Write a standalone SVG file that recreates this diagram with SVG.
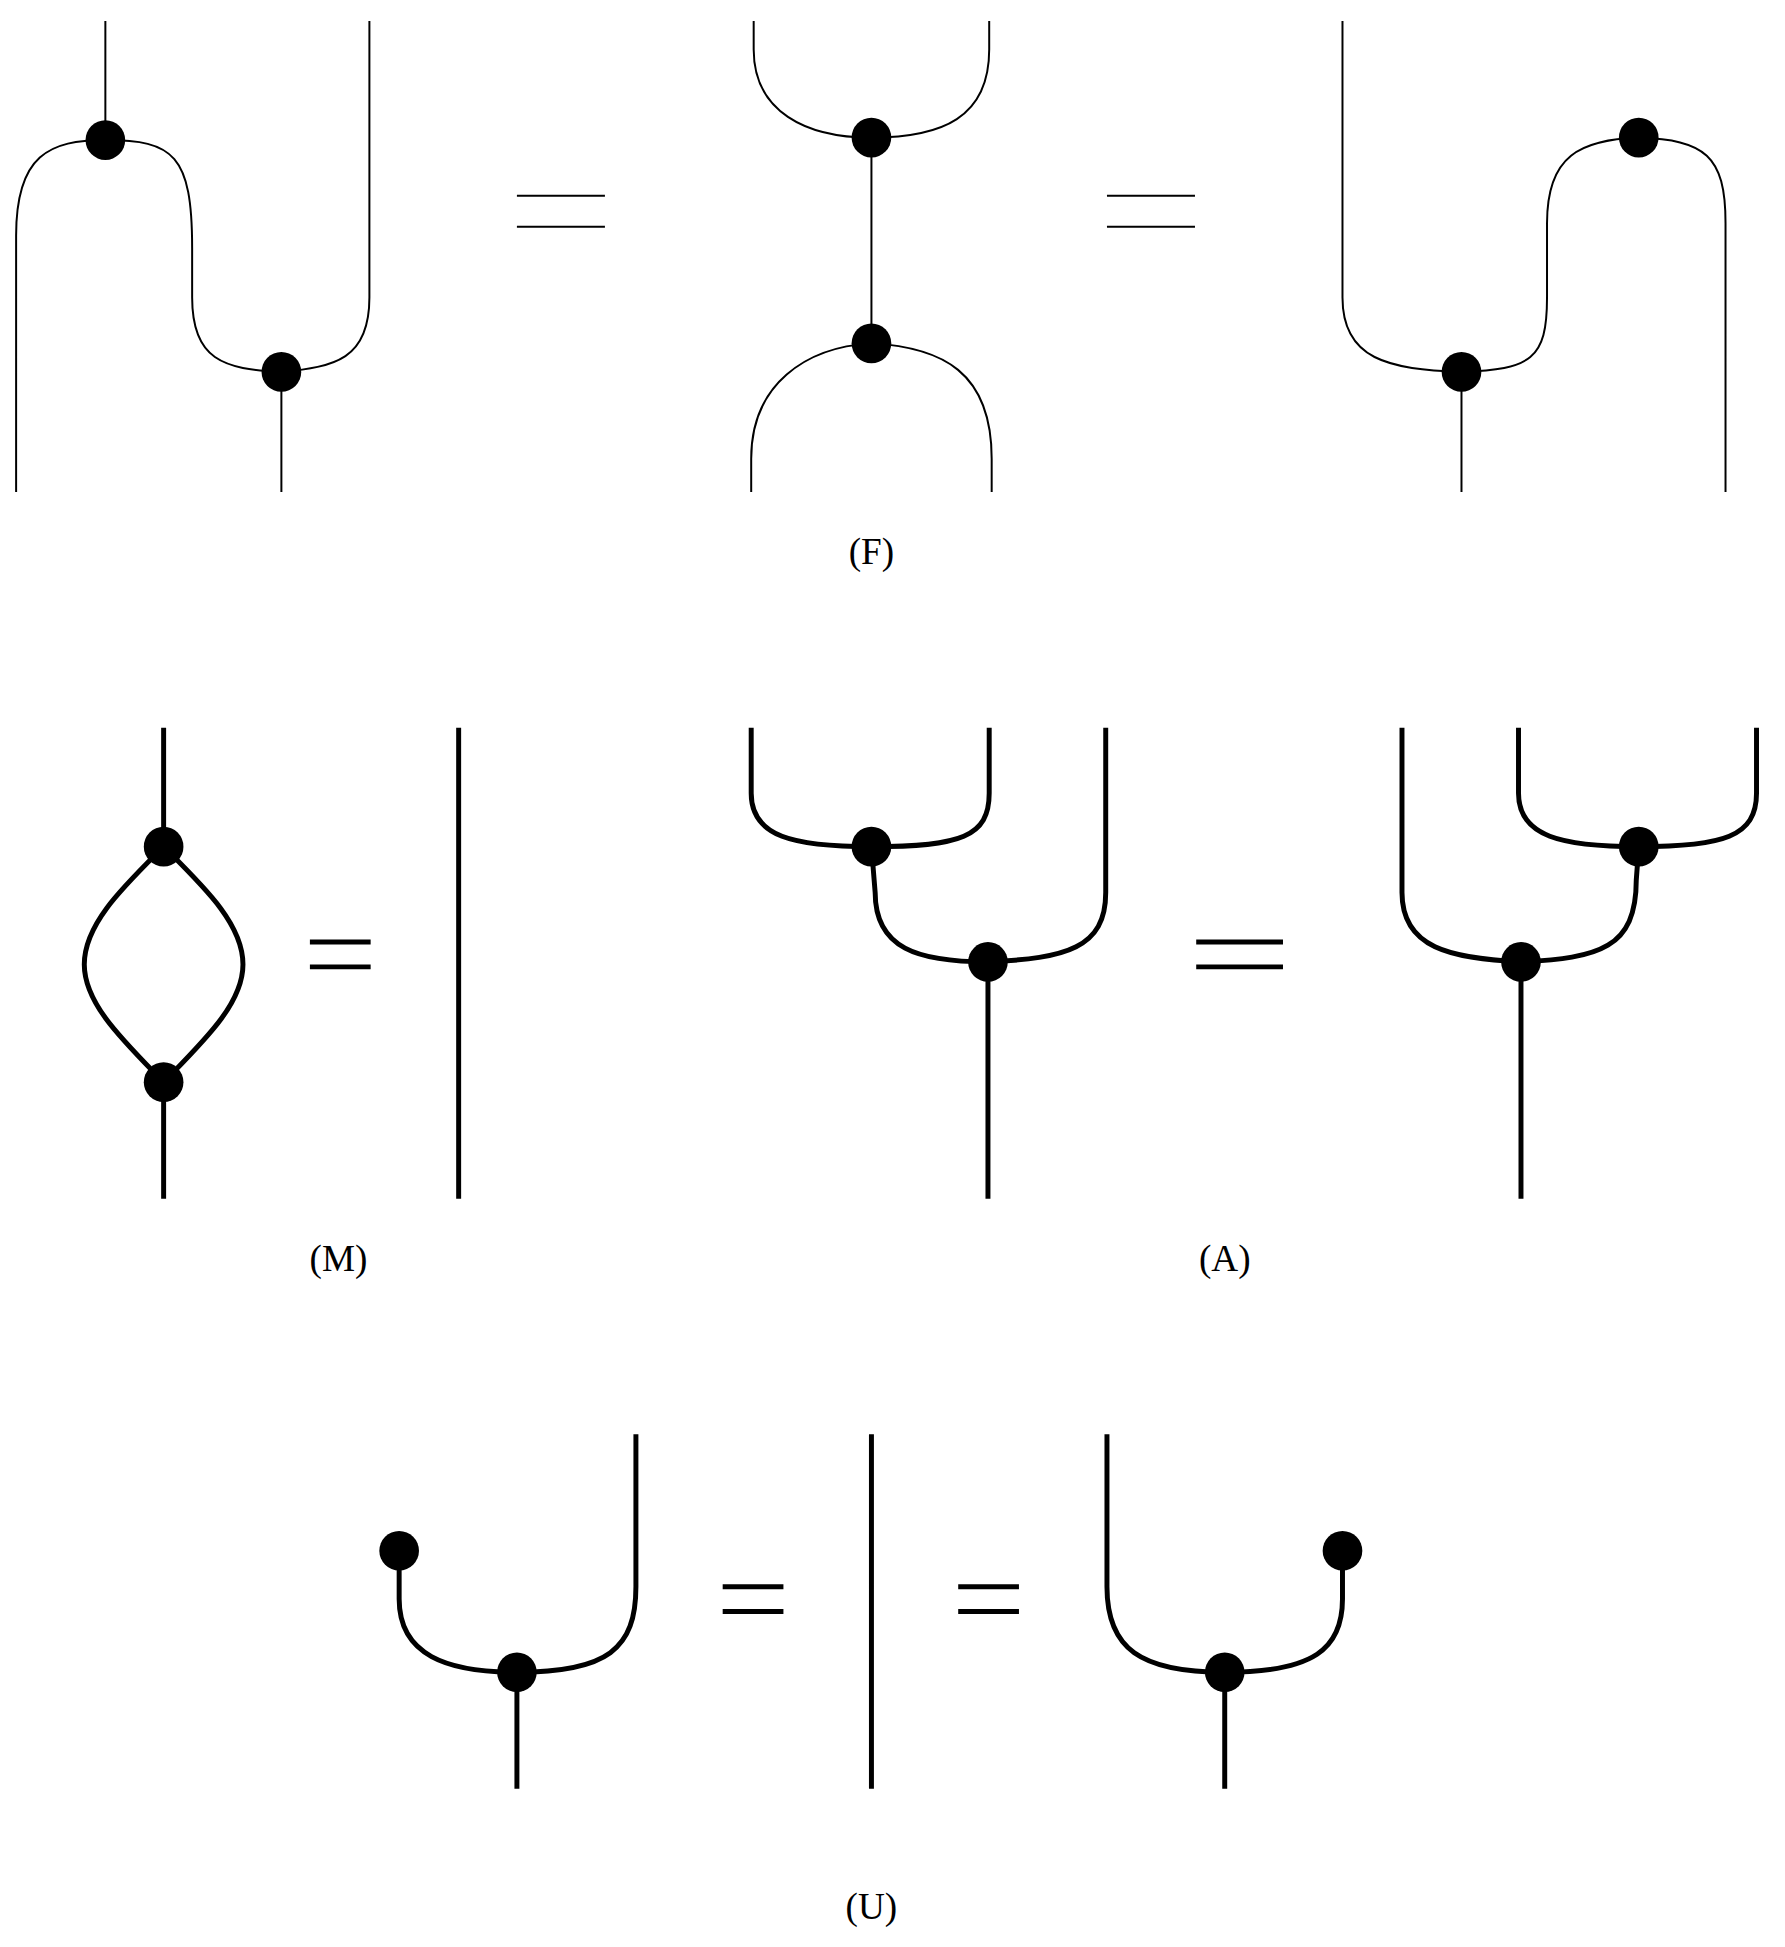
<svg xmlns="http://www.w3.org/2000/svg" width="1785" height="1947" viewBox="0 0 1785 1947">
<style>
.t{fill:none;stroke:#000;stroke-width:1.6}
.k{fill:none;stroke:#000;stroke-width:4}
.d{fill:#000}
.lbl{font-family:"Liberation Serif",serif;font-size:30px;text-anchor:middle}
</style>
<rect width="1785" height="1947" fill="#fff"/>
<g transform="scale(1.2396)">
<g id="connectors">
<path class="t" d="M13,397 L13,190 C13,125 40,113 85,113 C140,113 155,125 155,200 L155,240 C155,290 180,298 227,300 M85,113 L85,17 M298,17 L298,240 C298,290 270,296 227,300 L227,397"/>
<path class="t" d="M417,158 H488 M417,183 H488 M893,158 H964 M893,183 H964"/>
<path class="t" d="M608,17 L608,40 C608,90 650,111 703,111 C760,111 798,95 798,40 L798,17 M703,111 L703,277 M606,397 L606,370 C606,310 650,280 703,277 C760,280 800,300 800,370 L800,397"/>
<path class="t" d="M1083,17 L1083,240 C1083,290 1120,298 1179,300 L1179,397 M1179,300 C1235,298 1248,290 1248,240 L1248,180 C1248,125 1275,113 1322,111 C1375,113 1392,125 1392,180 L1392,397"/>
<path class="k" d="M132,587 L132,683 C100,715 68,745 68,778 C68,810 100,840 132,873 L132,967 M132,683 C164,715 196,745 196,778 C196,810 164,840 132,873 M250,760 H299 M250,780 H299 M370,587 V967"/>
<path class="k" d="M606,587 L606,640 C606,675 640,683 703,683 C775,683 798,675 798,640 L798,587 M703,683 L706,720 C706,765 740,776 797,776 M892,587 L892,720 C892,765 860,773 797,776 L797,967 M965,760 H1035 M965,780 H1035"/>
<path class="k" d="M1131,587 L1131,720 C1131,765 1170,773 1227,776 L1227,967 M1225,587 L1225,640 C1225,675 1260,683 1322,683 C1390,683 1417,675 1417,640 L1417,587 M1322,683 L1320,710 C1320,765 1290,773 1227,776"/>
<path class="k" d="M322,1251 L322,1290 C322,1335 360,1349 417,1349 C490,1349 513,1330 513,1280 L513,1157 M417,1349 L417,1443 M583,1280 H632 M583,1300 H632 M703,1157 V1443 M773,1280 H822 M773,1300 H822 M893,1157 L893,1280 C893,1330 920,1349 988,1349 C1060,1349 1083,1330 1083,1290 L1083,1251 M988,1349 L988,1443"/>
</g>
<g id="nodes">
<circle id="n1" class="d" cx="85" cy="113" r="16"/>
<circle id="n2" class="d" cx="227" cy="300" r="16"/>
<circle id="n3" class="d" cx="703" cy="111" r="16"/>
<circle id="n4" class="d" cx="703" cy="277" r="16"/>
<circle id="n5" class="d" cx="1179" cy="300" r="16"/>
<circle id="n6" class="d" cx="1322" cy="111" r="16"/>
<circle id="n7" class="d" cx="132" cy="683" r="16"/>
<circle id="n8" class="d" cx="132" cy="873" r="16"/>
<circle id="n9" class="d" cx="703" cy="683" r="16"/>
<circle id="n10" class="d" cx="797" cy="776" r="16"/>
<circle id="n11" class="d" cx="1322" cy="683" r="16"/>
<circle id="n12" class="d" cx="1227" cy="776" r="16"/>
<circle id="n13" class="d" cx="322" cy="1251" r="16"/>
<circle id="n14" class="d" cx="417" cy="1349" r="16"/>
<circle id="n15" class="d" cx="1083" cy="1251" r="16"/>
<circle id="n16" class="d" cx="988" cy="1349" r="16"/>
</g>
<g id="labels">
<text class="lbl" x="703" y="455">(F)</text>
<text class="lbl" x="273" y="1025">(M)</text>
<text class="lbl" x="988" y="1025">(A)</text>
<text class="lbl" x="703" y="1548">(U)</text>
</g>
</g>
</svg>
